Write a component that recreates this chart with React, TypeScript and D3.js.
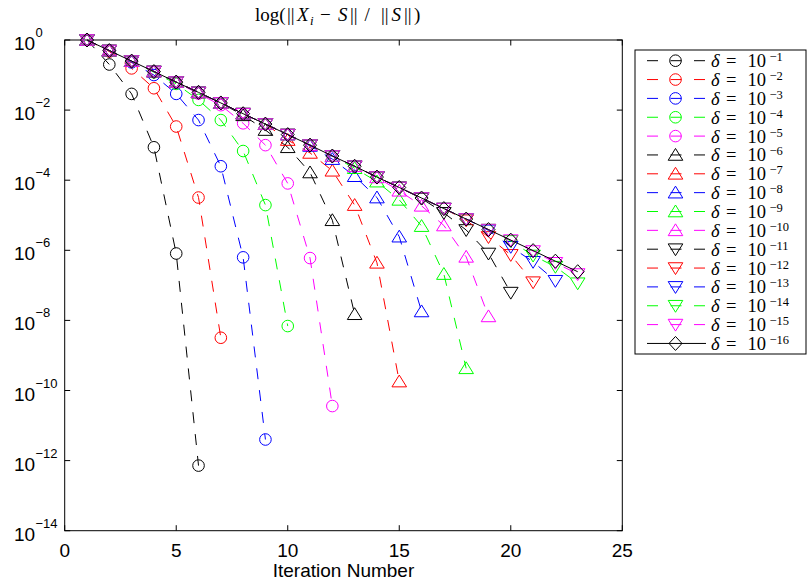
import { useRef, useEffect } from 'react';
import * as d3 from 'd3';

// iteration numbers on the x axis
const iterations = [1, 2, 3, 4, 5, 6, 7, 8, 9, 10, 11, 12, 13, 14, 15, 16, 17, 18, 19, 20, 21, 22, 23];
const deltaExponents = [-1, -2, -3, -4, -5, -6, -7, -8, -9, -10, -11, -12, -13, -14, -15, -16];
const colors = ['#000000', '#ff0000', '#0000ff', '#00ff00', '#ff00ff'];
const markerKinds = ['circle', 'circle', 'circle', 'circle', 'circle',
  'up', 'up', 'up', 'up', 'up',
  'down', 'down', 'down', 'down', 'down', 'diamond'];

// relative error ||Xi - S|| / ||S|| per delta, starting at iteration 1
const err1 = [1, 2.0e-1, 2.9e-2, 8.7e-4, 8.1e-7, 7.2e-13];
const err2 = [1, 4.7e-1, 1.55e-1, 4.2e-2, 3.4e-3, 3.2e-5, 3.2e-9];
const err3 = [1, 5.0e-1, 2.3e-1, 1.0e-1, 2.9e-2, 5.2e-3, 2.5e-4, 6.3e-7, 4.0e-12];
const err4 = [1, 5.0e-1, 2.5e-1, 1.2e-1, 5.6e-2, 1.95e-2, 5.2e-3, 6.8e-4, 1.95e-5, 6.9e-9];
const err5 = [1, 5.0e-1, 2.5e-1, 1.26e-1, 6.2e-2, 2.95e-2, 1.38e-2, 4.2e-3, 1.0e-3, 8.1e-5, 6.0e-7, 3.6e-11];
const err6 = [1, 5.0e-1, 2.5e-1, 1.26e-1, 6.3e-2, 3.2e-2, 1.6e-2, 7.1e-3, 2.7e-3, 8.7e-4, 1.66e-4, 7.2e-6, 1.5e-8];
const err7 = [1, 5.0e-1, 2.5e-1, 1.26e-1, 6.3e-2, 3.2e-2, 1.6e-2, 7.9e-3, 4.0e-3, 1.4e-3, 6.0e-4, 1.86e-4, 1.95e-5, 4.4e-7, 1.8e-10];
const err8 = [1, 5.0e-1, 2.5e-1, 1.26e-1, 6.3e-2, 3.2e-2, 1.6e-2, 7.9e-3, 4.0e-3, 2.0e-3, 9.5e-4, 4.0e-4, 1.3e-4, 3.2e-5, 2.45e-6, 1.8e-8];
const err9 = [1, 5.0e-1, 2.5e-1, 1.26e-1, 6.3e-2, 3.2e-2, 1.6e-2, 7.9e-3, 4.0e-3, 2.0e-3, 1.0e-3, 4.9e-4, 2.2e-4, 9.1e-5, 2.75e-5, 4.9e-6, 2.1e-7, 4.3e-10];
const err10 = [1, 5.0e-1, 2.5e-1, 1.26e-1, 6.3e-2, 3.2e-2, 1.6e-2, 7.9e-3, 4.0e-3, 2.0e-3, 1.0e-3, 4.9e-4, 2.5e-4, 1.2e-4, 5.0e-5, 1.86e-5, 5.1e-6, 6.5e-7, 1.3e-8];
const err11 = [1, 5.0e-1, 2.5e-1, 1.26e-1, 6.3e-2, 3.2e-2, 1.6e-2, 7.9e-3, 4.0e-3, 2.0e-3, 1.0e-3, 4.9e-4, 2.5e-4, 1.23e-4, 6.2e-5, 3.0e-5, 1.17e-5, 3.8e-6, 8.1e-7, 6.2e-8];
const err12 = [1, 5.0e-1, 2.5e-1, 1.26e-1, 6.3e-2, 3.2e-2, 1.6e-2, 7.9e-3, 4.0e-3, 2.0e-3, 1.0e-3, 4.9e-4, 2.5e-4, 1.23e-4, 6.2e-5, 3.1e-5, 1.55e-5, 7.2e-6, 2.4e-6, 7.4e-7, 1.23e-7];
const err13 = [1, 5.0e-1, 2.5e-1, 1.26e-1, 6.3e-2, 3.2e-2, 1.6e-2, 7.9e-3, 4.0e-3, 2.0e-3, 1.0e-3, 4.9e-4, 2.5e-4, 1.23e-4, 6.2e-5, 3.1e-5, 1.55e-5, 7.8e-6, 3.7e-6, 1.26e-6, 4.7e-7, 1.35e-7];
const err14 = [1, 5.0e-1, 2.5e-1, 1.26e-1, 6.3e-2, 3.2e-2, 1.6e-2, 7.9e-3, 4.0e-3, 2.0e-3, 1.0e-3, 4.9e-4, 2.5e-4, 1.23e-4, 6.2e-5, 3.1e-5, 1.55e-5, 7.8e-6, 3.9e-6, 1.85e-6, 7.1e-7, 3.4e-7, 1.15e-7];
const err15 = [1, 5.0e-1, 2.5e-1, 1.26e-1, 6.3e-2, 3.2e-2, 1.6e-2, 7.9e-3, 4.0e-3, 2.0e-3, 1.0e-3, 4.9e-4, 2.5e-4, 1.23e-4, 6.2e-5, 3.1e-5, 1.55e-5, 7.8e-6, 3.9e-6, 1.95e-6, 9.5e-7, 4.4e-7, 2.1e-7];
const err16 = [1, 5.0e-1, 2.5e-1, 1.26e-1, 6.3e-2, 3.2e-2, 1.6e-2, 7.9e-3, 4.0e-3, 2.0e-3, 1.0e-3, 4.9e-4, 2.5e-4, 1.23e-4, 6.2e-5, 3.1e-5, 1.55e-5, 7.8e-6, 3.9e-6, 1.95e-6, 9.8e-7, 4.9e-7, 2.45e-7];
const errors = [err1, err2, err3, err4, err5, err6, err7, err8, err9, err10, err11, err12, err13, err14, err15, err16];

const xTicks = [0, 5, 10, 15, 20, 25];
const yTickExponents = [0, -2, -4, -6, -8, -10, -12, -14];

const W = 808;
const H = 580;

function drawMarker(g: any, kind: string, cx: number, cy: number, color: string) {
  if (kind === 'circle') {
    g.append('circle').attr('cx', cx).attr('cy', cy).attr('r', 5.8)
      .attr('fill', 'none').attr('stroke', color).attr('stroke-width', 1);
    return;
  }
  let pts: number[][];
  if (kind === 'up') pts = [[0, -6.5], [7.3, 5.3], [-7.3, 5.3]];
  else if (kind === 'down') pts = [[0, 6.5], [7.3, -5.3], [-7.3, -5.3]];
  else pts = [[0, -7], [6.5, 0], [0, 7], [-6.5, 0]];
  g.append('polygon')
    .attr('points', pts.map(p => `${cx + p[0]},${cy + p[1]}`).join(' '))
    .attr('fill', 'none').attr('stroke', color).attr('stroke-width', 1);
}

export default function App() {
  const svgRef = useRef<SVGSVGElement>(null);

  useEffect(() => {
    const svg = d3.select(svgRef.current);
    svg.selectAll('*').remove();

    const left = 64.7, right = 622.3, top = 40, bottom = 530.7;
    const x = d3.scaleLinear().domain([0, 25]).range([left, right]);
    const y = d3.scaleLog().domain([1e-14, 1]).range([bottom, top]);

    svg.append('rect').attr('width', W).attr('height', H).attr('fill', '#fff');

    // axes box with inward ticks on all sides
    const ax = svg.append('g').attr('stroke', '#000').attr('stroke-width', 1).attr('fill', 'none');
    ax.append('rect').attr('x', left).attr('y', top).attr('width', right - left).attr('height', bottom - top);
    xTicks.forEach(t => {
      ax.append('line').attr('x1', x(t)).attr('x2', x(t)).attr('y1', bottom).attr('y2', bottom - 5.5);
      ax.append('line').attr('x1', x(t)).attr('x2', x(t)).attr('y1', top).attr('y2', top + 5.5);
    });
    yTickExponents.forEach(e => {
      const yy = y(Math.pow(10, e));
      ax.append('line').attr('x1', left).attr('x2', left + 5.5).attr('y1', yy).attr('y2', yy);
      ax.append('line').attr('x1', right).attr('x2', right - 5.5).attr('y1', yy).attr('y2', yy);
    });

    // tick labels
    const sans = 'Liberation Sans, Arial, sans-serif';
    xTicks.forEach(t => {
      svg.append('text').attr('x', x(t)).attr('y', 557).attr('text-anchor', 'middle')
        .style('font-family', sans).style('font-size', '19px').text(String(t));
    });
    yTickExponents.forEach(e => {
      const yy = y(Math.pow(10, e));
      const lbl = svg.append('text').attr('x', 14).attr('y', yy + 10)
        .style('font-family', sans).style('font-size', '19px');
      lbl.append('tspan').text('10');
      lbl.append('tspan').attr('x', 35.5).attr('dy', -13).style('font-size', '13px')
        .text(e === 0 ? '0' : '\u2212' + Math.abs(e));
    });
    svg.append('text').attr('x', (left + right) / 2).attr('y', 577).attr('text-anchor', 'middle')
      .style('font-family', sans).style('font-size', '19px').text('Iteration Number');

    // title, set piece by piece to get the math spacing
    const serif = 'Liberation Serif, DejaVu Serif, serif';
    const title = svg.append('text').attr('y', 21)
      .style('font-family', serif).style('font-size', '19px');
    const pieces: [string, number, boolean][] = [
      ['log(', 255, false], ['||', 287, false], ['X', 297, true], ['i', 310, true], ['\u2212', 320, false],
      ['S', 338, true], ['||', 350, false], ['/', 364.5, false], ['||', 381, false],
      ['S', 391.5, true], ['||', 404, false], [')', 414, false],
    ];
    pieces.forEach(([txt, px, it]) => {
      const sp = title.append('tspan').attr('x', px).style('font-style', it ? 'italic' : 'normal').text(txt);
      if (txt === 'i') sp.attr('y', 25).style('font-size', '13px');
      else sp.attr('y', 21);
    });

    // series
    const line = d3.line<number>()
      .x((d, i) => x(iterations[i]))
      .y(d => y(d));

    errors.forEach((vals, s) => {
      const color = colors[s % 5];
      const g = svg.append('g');
      g.append('path')
        .attr('d', line(vals))
        .attr('fill', 'none')
        .attr('stroke', color)
        .attr('stroke-width', 1)
        .attr('stroke-dasharray', s < 15 ? '11,11' : null);
      vals.forEach((v, i) => drawMarker(g, markerKinds[s], x(iterations[i]), y(v), color));
    });

    // legend
    const lg = svg.append('g');
    lg.append('rect').attr('x', 635).attr('y', 50).attr('width', 171).attr('height', 304)
      .attr('fill', '#fff').attr('stroke', '#000').attr('stroke-width', 1);
    deltaExponents.forEach((e, s) => {
      const ry = 60.7 + s * 18.85;
      const color = colors[s % 5];
      lg.append('line').attr('x1', 647).attr('x2', 706).attr('y1', ry).attr('y2', ry)
        .attr('stroke', color).attr('stroke-width', 1)
        .attr('stroke-dasharray', s < 15 ? '11,12.5' : null);
      drawMarker(lg, markerKinds[s], 675.5, ry, color);
      const t = lg.append('text').attr('y', ry + 6.5)
        .style('font-family', serif).style('font-size', '18.5px');
      t.append('tspan').attr('x', 711).style('font-style', 'italic').text('\u03b4');
      t.append('tspan').attr('x', 726).text('=');
      t.append('tspan').attr('x', 747.5).text('10');
      t.append('tspan').attr('x', 769.5).attr('y', ry + 0.5).style('font-size', '12.5px')
        .text('\u2212' + Math.abs(e));
    });
  }, []);

  return (
    <svg ref={svgRef} width={W} height={H}
      style={{ position: 'absolute', left: 0, top: 0, background: '#fff' }} />
  );
}
